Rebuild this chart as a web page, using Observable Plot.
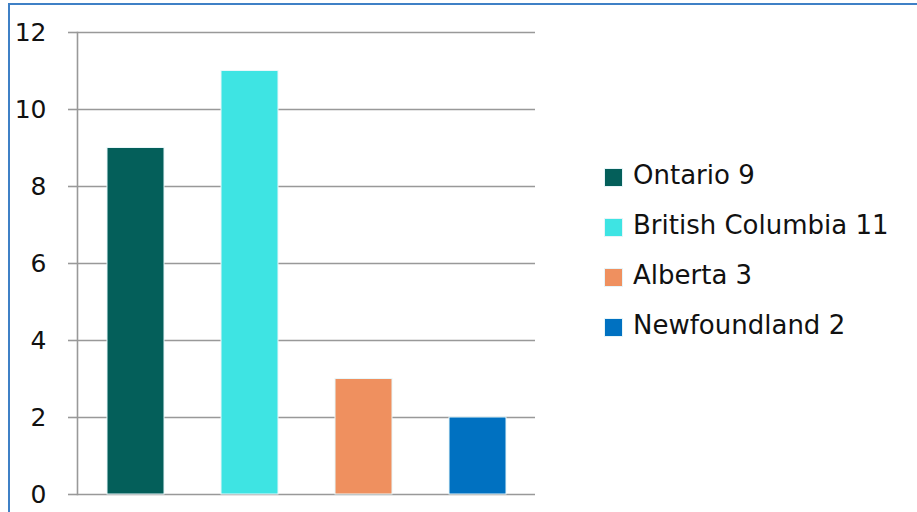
<!DOCTYPE html>
<html>
<head>
<meta charset="utf-8">
<script src="https://cdn.jsdelivr.net/npm/d3@7"></script>
<script src="https://cdn.jsdelivr.net/npm/@observablehq/plot@0.6"></script>
<style>
  html, body { margin: 0; padding: 0; background: #fff; }
  #wrap { position: relative; width: 917px; height: 512px; overflow: hidden; font-family: "DejaVu Sans", sans-serif; }
  #border { position: absolute; left: 8px; top: 3px; width: 940px; height: 600px; border-top: 2px solid #3f80c6; border-left: 2px solid #3f80c6; }
  #chart { position: absolute; left: 0; top: 0; }
  #legend { position: absolute; left: 604px; top: 150px; }
  .row { display: flex; align-items: center; height: 50px; }
  .sw { width: 17px; height: 17px; border: 1px solid #e6f4f8; box-sizing: content-box; margin-top: 4px; }
  .lab { margin-left: 10px; font-size: 26px; color: #111; white-space: nowrap; }
</style>
</head>
<body>
<div id="wrap">
  <div id="border"></div>
  <div id="chart"></div>
  <div id="legend"></div>
</div>
<script>
const provinces = ["Ontario", "British Columbia", "Alberta", "Newfoundland"];
const counts = [9, 11, 3, 2];
const colors = ["#045f5a", "#3ee4e3", "#ef905f", "#0071c1"];
const yTicks = [0, 2, 4, 6, 8, 10, 12];

const data = provinces.map((p, i) => ({province: p, count: counts[i]}));

const chart = Plot.plot({
  width: 917,
  height: 512,
  marginLeft: 77,
  marginRight: 382,
  marginTop: 32,
  marginBottom: 18,
  style: {fontFamily: "DejaVu Sans, sans-serif", fontSize: "25px", color: "#111", background: "transparent"},
  x: {domain: provinces, paddingInner: 0.5, paddingOuter: 0.25, axis: null},
  y: {domain: [0, 12]},
  color: {domain: provinces, range: colors},
  marks: [
    Plot.ruleY(yTicks, {stroke: "#999", strokeWidth: 1.6}),
    Plot.axisY({ticks: yTicks, tickSize: 9, tickPadding: 22, stroke: "#999", strokeWidth: 1.6, label: null, fontSize: 25}),
    Plot.frame({anchor: "left", stroke: "#999", strokeWidth: 1.6}),
    Plot.barY(data, {x: "province", y: "count", fill: "province", stroke: "#e8f7fa", strokeWidth: 1})
  ]
});
document.getElementById("chart").appendChild(chart);

const legend = document.getElementById("legend");
provinces.forEach((p, i) => {
  const row = document.createElement("div");
  row.className = "row";
  const sw = document.createElement("div");
  sw.className = "sw";
  sw.style.background = colors[i];
  const lab = document.createElement("div");
  lab.className = "lab";
  lab.textContent = p + " " + counts[i];
  row.appendChild(sw);
  row.appendChild(lab);
  legend.appendChild(row);
});
</script>
</body>
</html>
